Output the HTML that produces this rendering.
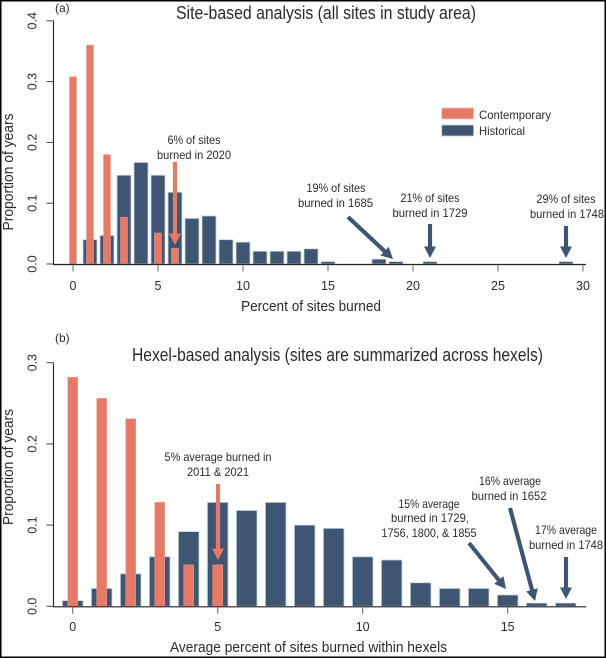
<!DOCTYPE html>
<html>
<head>
<meta charset="utf-8">
<title>Fire history histograms</title>
<style>
html,body{margin:0;padding:0;background:#fff;}
#fig{display:block;position:absolute;left:0;top:0;filter:blur(0.35px);}
text{font-family:"Liberation Sans",sans-serif;fill:#2b2b2b;}
.t{font-size:18px;text-anchor:middle;}
.l{font-size:15px;text-anchor:middle;}
.k{font-size:12.5px;text-anchor:middle;}
.a{font-size:12px;text-anchor:middle;}
</style>
</head>
<body>
<svg id="fig" width="606" height="658" viewBox="0 0 606 658" xmlns="http://www.w3.org/2000/svg">
  <rect x="0" y="0" width="606" height="658" fill="#fff"/>
  <rect x="0.75" y="0.75" width="604.5" height="656.5" fill="none" stroke="#000" stroke-width="1.5"/>

  <g id="panel-a">
    <text x="55" y="12" style="font-size:12px">(a)</text>
    <text class="t" x="326" y="19" textLength="300" lengthAdjust="spacingAndGlyphs">Site-based analysis (all sites in study area)</text>
    <text class="l" transform="translate(13,172) rotate(-90)" textLength="117" lengthAdjust="spacingAndGlyphs">Proportion of years</text>
    <text class="l" x="311" y="311" textLength="140" lengthAdjust="spacingAndGlyphs">Percent of sites burned</text>
    <g id="a-bars"></g>
    <g id="a-axes"></g>

    <text class="a" x="194" y="144" textLength="53" lengthAdjust="spacingAndGlyphs">6% of sites</text>
    <text class="a" x="194" y="159" textLength="74" lengthAdjust="spacingAndGlyphs">burned in 2020</text>
    <text class="a" x="336" y="192" textLength="59" lengthAdjust="spacingAndGlyphs">19% of sites</text>
    <text class="a" x="335.5" y="207" textLength="75" lengthAdjust="spacingAndGlyphs">burned in 1685</text>
    <text class="a" x="430" y="202" textLength="59" lengthAdjust="spacingAndGlyphs">21% of sites</text>
    <text class="a" x="430" y="217" textLength="75" lengthAdjust="spacingAndGlyphs">burned in 1729</text>
    <text class="a" x="566" y="203" textLength="59" lengthAdjust="spacingAndGlyphs">29% of sites</text>
    <text class="a" x="567" y="218" textLength="74" lengthAdjust="spacingAndGlyphs">burned in 1748</text>

    <rect x="441.7" y="108" width="32" height="11" fill="#E77A66" stroke="#f3c9bf" stroke-width="0.8"/>
    <text x="479" y="119" style="font-size:12px" textLength="72" lengthAdjust="spacingAndGlyphs">Contemporary</text>
    <rect x="441.7" y="125" width="32" height="11" fill="#3F5673" stroke="#c8d4e0" stroke-width="0.8"/>
    <text x="479" y="135" style="font-size:12px" textLength="46" lengthAdjust="spacingAndGlyphs">Historical</text>
  </g>

  <g id="panel-b">
    <text x="55" y="342" style="font-size:12px">(b)</text>
    <text class="t" x="337.5" y="361" textLength="411" lengthAdjust="spacingAndGlyphs">Hexel-based analysis (sites are summarized across hexels)</text>
    <text class="l" transform="translate(13,467) rotate(-90)" textLength="116" lengthAdjust="spacingAndGlyphs">Proportion of years</text>
    <text class="l" x="308.5" y="652" textLength="277" lengthAdjust="spacingAndGlyphs">Average percent of sites burned within hexels</text>
    <g id="b-bars"></g>
    <g id="b-axes"></g>

    <text class="a" x="218" y="461" textLength="107" lengthAdjust="spacingAndGlyphs">5% average burned in</text>
    <text class="a" x="218" y="476" textLength="62" lengthAdjust="spacingAndGlyphs">2011 &amp; 2021</text>
    <text class="a" x="429" y="508" textLength="61" lengthAdjust="spacingAndGlyphs">15% average</text>
    <text class="a" x="430" y="522" textLength="78" lengthAdjust="spacingAndGlyphs">burned in 1729,</text>
    <text class="a" x="429" y="537" textLength="95" lengthAdjust="spacingAndGlyphs">1756, 1800, &amp; 1855</text>
    <text class="a" x="510" y="485" textLength="62" lengthAdjust="spacingAndGlyphs">16% average</text>
    <text class="a" x="509" y="500" textLength="75" lengthAdjust="spacingAndGlyphs">burned in 1652</text>
    <text class="a" x="566" y="534" textLength="62" lengthAdjust="spacingAndGlyphs">17% average</text>
    <text class="a" x="566" y="549" textLength="74" lengthAdjust="spacingAndGlyphs">burned in 1748</text>
  </g>
  <g id="arrows"></g>
</svg>

<script>
var aCategories = [0,1,2,3,4,5,6,7,8,9,10,11,12,13,14,15,16,17,18,19,20,21,22,23,24,25,26,27,28,29];
var aContemporary = [0.308,0.36,0.18,0.077,0,0.051,0.026,0,0,0,0,0,0,0,0,0,0,0,0,0,0,0,0,0,0,0,0,0,0,0];
var aHistorical = [0,0.04,0.047,0.146,0.167,0.146,0.118,0.075,0.079,0.04,0.036,0.021,0.021,0.021,0.025,0.004,0,0,0.008,0.004,0,0.004,0,0,0,0,0,0,0,0.004];
var aXTicks = [0,5,10,15,20,25,30];
var aYTicks = ["0.0","0.1","0.2","0.3","0.4"];

var bCategories = [0,1,2,3,4,5,6,7,8,9,10,11,12,13,14,15,16,17];
var bContemporary = [0.282,0.256,0.231,0.128,0.051,0.051,0,0,0,0,0,0,0,0,0,0,0,0];
var bHistorical = [0.007,0.022,0.04,0.061,0.092,0.128,0.118,0.128,0.1,0.096,0.061,0.057,0.029,0.022,0.022,0.014,0.004,0.004];
var bXTicks = [0,5,10,15];
var bYTicks = ["0.0","0.1","0.2","0.3"];

var NS = "http://www.w3.org/2000/svg";
function mk(tag, parent, props) {
  var el = document.createElementNS(NS, tag);
  for (var k in props) { el.setAttribute(k, props[k]); }
  parent.appendChild(el);
  return el;
}
function xA(v) { return 73 + 17 * v; }
function yA(v) { return 264 - 608 * v; }
function xB(v) { return 72.7 + 29 * v; }
function yB(v) { return 606.3 - 812 * v; }

function drawBars(groupId, cats, hist, cont, x, y, wH, wC, prefix) {
  var g = document.getElementById(groupId);
  cats.forEach(function (c, i) {
    if (hist[i] > 0) {
      var r = mk("rect", g, {x: x(c) - wH / 2, y: y(hist[i]), width: wH, height: y(0) - y(hist[i]), fill: "#3F5673", stroke: "#c8d4e0", "stroke-width": 0.8});
      
      
    }
  });
  cats.forEach(function (c, i) {
    if (cont[i] > 0) {
      var r = mk("rect", g, {x: x(c) - wC / 2, y: y(cont[i]), width: wC, height: y(0) - y(cont[i]), fill: "#E77A66", stroke: "#ec9d8d", "stroke-width": 0.5});
      
      
    }
  });
}

function drawAxes(groupId, xTicks, yTicks, x, y, xLabelY) {
  var g = document.getElementById(groupId);
  var y0 = y(0);
  var yTop = y(parseFloat(yTicks[yTicks.length - 1]));
  var axisY = y0 + 0.5;
  var yLine = mk("line", g, {x1: 53.5, x2: 53.5, y1: yTop, y2: axisY, stroke: "#222", "stroke-width": 1.1});
  
  
  var xLine = mk("line", g, {x1: 53, x2: 586, y1: axisY, y2: axisY, stroke: "#222", "stroke-width": 1.2});
  
  
  yTicks.forEach(function (t) {
    var py = y(parseFloat(t));
    var tick = mk("line", g, {x1: 46.5, x2: 53.5, y1: py, y2: py, stroke: "#444", "stroke-width": 1});
    
    
    var lab = mk("text", g, {"class": "k", transform: "translate(36.5," + py + ") rotate(-90)"});
    lab.textContent = t;
    
    
  });
  xTicks.forEach(function (t) {
    var px = x(t);
    var tick = mk("line", g, {x1: px, x2: px, y1: axisY, y2: axisY + 7, stroke: "#666", "stroke-width": 1});
    
    
    var lab = mk("text", g, {"class": "k", x: px, y: xLabelY});
    lab.textContent = t;
    
    
  });
}

function arrow(x1, y1, x2, y2, color, name) {
  var g = document.getElementById("arrows");
  var dx = x2 - x1, dy = y2 - y1, L = Math.sqrt(dx * dx + dy * dy);
  var ux = dx / L, uy = dy / L, hl = 11.5, hw = 6, sw = 2.1;
  var bx = x2 - ux * hl, by = y2 - uy * hl, nx = -uy, ny = ux;
  var pts = [
    [x1 + nx * sw, y1 + ny * sw], [bx + nx * sw, by + ny * sw], [bx + nx * hw, by + ny * hw],
    [x2, y2],
    [bx - nx * hw, by - ny * hw], [bx - nx * sw, by - ny * sw], [x1 - nx * sw, y1 - ny * sw]
  ].map(function (p) { return p[0].toFixed(1) + "," + p[1].toFixed(1); }).join(" ");
  var a = mk("polygon", g, {points: pts, fill: color});
  
  
}

drawBars("a-bars", aCategories, aHistorical, aContemporary, xA, yA, 14, 7, "a");
drawAxes("a-axes", aXTicks, aYTicks, xA, yA, 290);
drawBars("b-bars", bCategories, bHistorical, bContemporary, xB, yB, 20.6, 10, "b");
drawAxes("b-axes", bXTicks, bYTicks, xB, yB, 631);

arrow(175, 162, 175, 245, "#E77A66", "arrow-2020");
arrow(348, 217, 393, 259, "#3F5673", "arrow-1685");
arrow(430, 224, 430, 258, "#3F5673", "arrow-1729");
arrow(566, 226, 566, 258, "#3F5673", "arrow-1748");
arrow(218, 484, 218, 560, "#E77A66", "arrow-2011-2021");
arrow(469, 543, 506, 589, "#3F5673", "arrow-15-percent");
arrow(510, 508, 535, 601, "#3F5673", "arrow-1652");
arrow(566, 557, 566, 599, "#3F5673", "arrow-b-1748");
</script>
</body>
</html>
